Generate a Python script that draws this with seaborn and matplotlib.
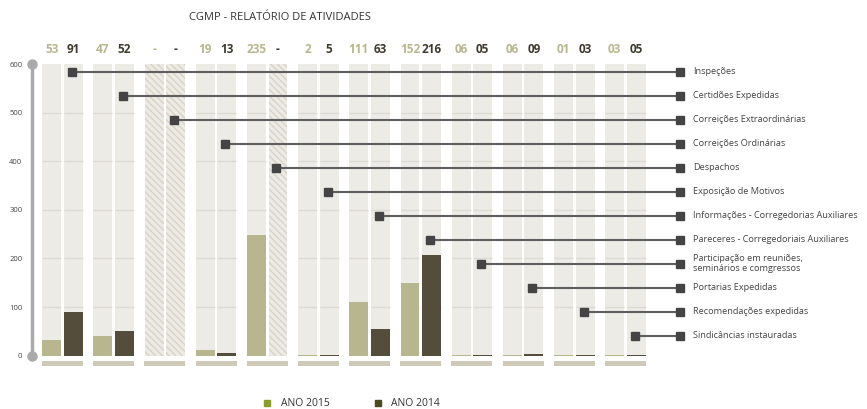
import numpy as np
import pandas as pd
import matplotlib.pyplot as plt
import seaborn as sns
from matplotlib.patches import Patch

# Data
categorias = ['Inspeções', 'Certidões Expedidas', 'Correições Extraordinárias',
              'Correições Ordinárias', 'Despachos', 'Exposição de Motivos',
              'Informações - Corregedorias Auxiliares', 'Pareceres - Corregedoriais Auxiliares',
              'Participação em reuniões,\nseminários e comgressos', 'Portarias Expedidas',
              'Recomendações expedidas', 'Sindicâncias instauradas']
anos = ['ANO 2015', 'ANO 2014']
rotulos_2015 = ['53', '47', '-', '19', '235', '2', '111', '152', '06', '06', '01', '03']
rotulos_2014 = ['91', '52', '-', '13', '-', '5', '63', '216', '05', '09', '03', '05']
barras_2015 = [32, 41, 0, 12, 249, 1, 111, 150, 1, 1, 1, 1]
barras_2014 = [90, 51, 0, 5, 0, 2, 55, 207, 2, 4, 2, 2]
escala_max = 600
yticks = [0, 100, 200, 300, 400, 500, 600]

cor_fundo = '#ecebe6'
cor_hachura = '#d8d3c3'
cor_2015 = '#b7b68f'
cor_2014 = '#544d3b'
cor_base = '#cfc9b8'

df = pd.DataFrame({
    'categoria': categorias * 2,
    'ano': [anos[0]] * 12 + [anos[1]] * 12,
    'valor': barras_2015 + barras_2014,
    'rotulo': rotulos_2015 + rotulos_2014,
})
df['fundo'] = escala_max

sns.set_style('white')
plt.rcParams['font.family'] = ['Open Sans', 'DejaVu Sans']
plt.rcParams['hatch.linewidth'] = 1.0

fig = plt.figure(figsize=(8.67, 4.09), dpi=100)
ax = fig.add_axes([32 / 867, 38.7 / 409, 648 / 867, 316 / 409])

# background columns
sns.barplot(data=df, x='categoria', y='fundo', hue='ano', hue_order=anos,
            order=categorias, palette=[cor_fundo, cor_fundo], width=0.84, gap=0.12,
            saturation=1, errorbar=None, legend=False, ax=ax, linewidth=0)

# hatched columns where there is no value, light grid elsewhere
for cont, rot in zip(ax.containers[:2], [rotulos_2015, rotulos_2014]):
    for p, r in zip(cont.patches, rot):
        if r == '-':
            p.set_hatch('\\\\\\\\\\')
            p.set_edgecolor(cor_hachura)
            p.set_linewidth(0)
        else:
            for yv in yticks[1:-1]:
                ax.hlines(yv, p.get_x(), p.get_x() + p.get_width(),
                          color='#dcdad3', lw=1, zorder=1.5)

# value bars
sns.barplot(data=df, x='categoria', y='valor', hue='ano', hue_order=anos,
            order=categorias, palette=[cor_2015, cor_2014], width=0.84, gap=0.12,
            saturation=1, errorbar=None, legend=False, ax=ax, linewidth=0, zorder=2)

# value labels on top
for cont, rot, cor in zip(ax.containers[2:], [rotulos_2015, rotulos_2014], [cor_2015, '#3f3a2e']):
    for p, r in zip(cont.patches, rot):
        ax.text(p.get_x() + p.get_width() / 2, 630, r, ha='center', va='center',
                fontsize=8.5, fontweight='bold', color=cor, clip_on=False)

# base strip under each group
x = np.arange(len(categorias))
ax.bar(x, -10, bottom=-11.5, width=0.8, color=cor_base, linewidth=0)

ax.set_xlim(-0.596, 12.065)
ax.set_ylim(-30, 620)

# leader lines to category names
x_dir = ax.get_xlim()[1]
y_lead = np.linspace(584, 41, len(categorias))
for i, (nome, yl) in enumerate(zip(categorias, y_lead)):
    xl = i + 0.18
    ax.plot([xl, x_dir], [yl, yl], color='#5e5e5e', lw=1.5, zorder=4, clip_on=False)
    ax.plot([xl], [yl], marker='s', ms=6, color='#444444', zorder=5, clip_on=False)
    ax.plot([x_dir], [yl], marker='s', ms=5.5, color='#444444', zorder=5, clip_on=False)
    ax.text(x_dir + 0.25, yl, nome, ha='left', va='center', fontsize=6.6,
            color='#444444', linespacing=1.15, clip_on=False)

# y axis styling
sns.despine(ax=ax, top=True, right=True, bottom=True)
ax.spines['left'].set_bounds(0, escala_max)
ax.spines['left'].set_color('#aaaaaa')
ax.spines['left'].set_linewidth(2.5)
ax.plot([ax.get_xlim()[0]] * 2, [0, escala_max], 'o', ms=6.5, color='#aaaaaa',
        clip_on=False, zorder=6)
ax.set_yticks(yticks)
ax.set_yticklabels([str(v) for v in yticks])
ax.tick_params(axis='y', length=3, width=0.8, color='#aaaaaa', pad=4,
               labelsize=5.5, labelcolor='#444444')
ax.set_xticks([])
ax.set_xlabel('')
ax.set_ylabel('')

fig.text(280 / 867, 1 - 18 / 409, 'CGMP - RELATÓRIO DE ATIVIDADES', ha='center', va='center',
         fontsize=8, color='#333333')

handles = [Patch(color='#8a9d2e'), Patch(color='#4a4a1e')]
fig.legend(handles, anos, loc='center left', bbox_to_anchor=(259 / 867, 5 / 409),
           ncol=2, frameon=False, fontsize=7.5, handlelength=0.6, handleheight=0.6,
           handletextpad=1.0, columnspacing=4.3, borderpad=0, labelcolor='#333333')

fig.savefig('out.png', dpi=100)
